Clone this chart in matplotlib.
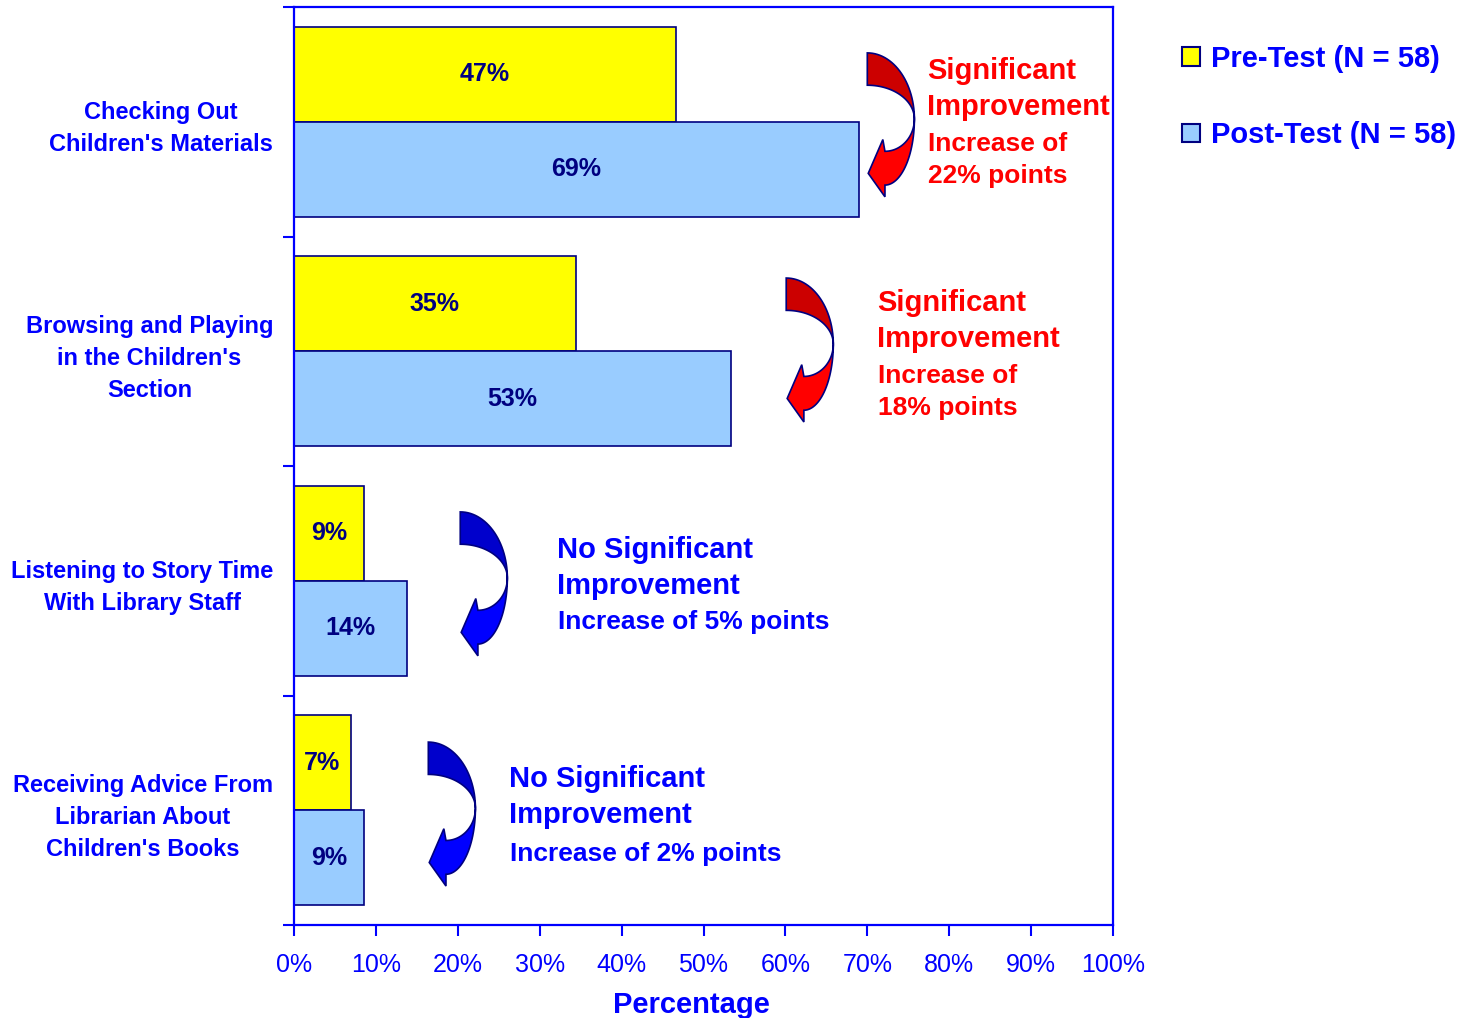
import numpy as np
import matplotlib
matplotlib.use("Agg")
import matplotlib.pyplot as plt
from matplotlib.patches import Polygon, Patch

# ── Data ─────────────────────────────────────────────────────────────────────
categories = [
    "Checking Out\nChildren's Materials",
    "Browsing and Playing\nin the Children's\nSection",
    "Listening to Story Time\nWith Library Staff",
    "Receiving Advice From\nLibrarian About\nChildren's Books",
]
pre_test = [46.6, 34.4, 8.6, 6.9]
post_test = [69.0, 53.4, 13.8, 8.6]
pre_labels = ["47%", "35%", "9%", "7%"]
post_labels = ["69%", "53%", "14%", "9%"]
verdicts = ["Significant\nImprovement", "Significant\nImprovement",
            "No Significant\nImprovement", "No Significant\nImprovement"]
increases = ["Increase of\n22% points", "Increase of\n18% points",
             "Increase of 5% points", "Increase of 2% points"]
significant = [True, True, False, False]

# ── Styles ───────────────────────────────────────────────────────────────────
YELLOW = "#FFFF00"
LBLUE = "#99CCFF"
NAVY = "#000080"
BLUE = "#0000FF"
RED = "#FF0000"

plt.rcParams.update({
    "font.family": ["Liberation Sans", "DejaVu Sans"],
    "font.weight": "bold",
})

fig = plt.figure(figsize=(14.58, 10.18), dpi=100)
ax = fig.add_axes([294 / 1458, 1 - 925 / 1018, 819 / 1458, 918 / 1018])

n = len(categories)
y = np.arange(n)
bh = 0.415
ax.barh(y - bh / 2, pre_test, bh, color=YELLOW, edgecolor=NAVY,
        linewidth=1.2, label="Pre-Test (N = 58)")
ax.barh(y + bh / 2, post_test, bh, color=LBLUE, edgecolor=NAVY,
        linewidth=1.2, label="Post-Test (N = 58)")

for i in range(n):
    ax.text(pre_test[i] / 2, y[i] - bh / 2, pre_labels[i], ha="center",
            va="center", color=NAVY, fontsize=18, fontweight="bold")
    ax.text(post_test[i] / 2, y[i] + bh / 2, post_labels[i], ha="center",
            va="center", color=NAVY, fontsize=18, fontweight="bold")

ax.set_xlim(0, 100)
ax.set_ylim(n - 0.5, -0.5)
ax.set_xticks(np.arange(0, 101, 10))
ax.set_xticklabels([f"{v}%" for v in range(0, 101, 10)])
ax.set_yticks(y)
ax.set_yticklabels(categories, ha="right", multialignment="center",
                   linespacing=1.5)
ax.set_yticks(np.arange(-0.5, n, 1.0), minor=True)

ax.tick_params(axis="x", colors=BLUE, labelcolor=BLUE, labelsize=18,
               length=8, width=1.5, pad=12)
for lab in ax.get_xticklabels():
    lab.set_fontweight("normal")
ax.tick_params(axis="y", which="major", length=0, pad=15,
               labelcolor=BLUE, labelsize=17)
ax.tick_params(axis="y", which="minor", length=8, width=1.5, color=BLUE)
for sp in ax.spines.values():
    sp.set_color(BLUE)
    sp.set_linewidth(1.6)

ax.set_xlabel("Percentage", fontsize=21, fontweight="bold", color=BLUE)
ax.xaxis.set_label_coords(0.485, -0.072)

# ── Curved arrows (decorative, like the Office shapes) ───────────────────────
def curved_arrow(x0, y0, w, h, dark, light):
    t = np.linspace(np.pi / 2, 0, 30)
    outer_top = np.c_[np.cos(t), 0.45 - 0.45 * np.sin(t)]
    inner_top = np.c_[np.cos(t), 0.45 - 0.23 * np.sin(t)]
    top = np.vstack([outer_top, inner_top[::-1]])
    s = np.linspace(0, -np.pi / 2, 30)
    inner_bot = np.c_[0.375 + 0.625 * np.cos(s), 0.45 - 0.22 * np.sin(s)]
    outer_bot = np.c_[0.375 + 0.625 * np.cos(s), 0.45 - 0.45 * np.sin(s)]
    head = np.array([[0.33, 0.59], [0.02, 0.82], [0.375, 0.98]])
    bot = np.vstack([inner_bot, head, outer_bot[::-1]])
    for shape, col in ((top, dark), (bot, light)):
        pts = np.c_[x0 + shape[:, 0] * w, y0 + shape[:, 1] * h]
        ax.add_patch(Polygon(pts, closed=True, facecolor=col, edgecolor=NAVY,
                             linewidth=1.2, zorder=4))

arrow_pos = [(70.0, -0.300), (60.1, 0.681), (20.3, 1.700), (16.4, 2.703)]
text_pos = [(77.3, -0.142, 0.167), (71.2, 0.868, 1.178),
            (32.1, 1.944, 2.180), (26.3, 2.942, 3.191)]
for i in range(n):
    if significant[i]:
        dark, light, tc = "#CC0000", RED, RED
    else:
        dark, light, tc = "#0000CC", BLUE, BLUE
    curved_arrow(arrow_pos[i][0], arrow_pos[i][1], 5.75, 0.64, dark, light)
    tx, ty1, ty2 = text_pos[i]
    ax.text(tx, ty1, verdicts[i], color=tc, fontsize=21, fontweight="bold",
            ha="left", va="center", linespacing=1.35)
    ax.text(tx + 0.1, ty2, increases[i], color=tc, fontsize=19,
            fontweight="bold", ha="left", va="center", linespacing=1.4)

# ── Legend ───────────────────────────────────────────────────────────────────
handles = [Patch(facecolor=YELLOW, edgecolor=NAVY, linewidth=1.5),
           Patch(facecolor=LBLUE, edgecolor=NAVY, linewidth=1.5)]
leg = fig.legend(handles, ["Pre-Test (N = 58)", "Post-Test (N = 58)"],
                 loc="upper left", bbox_to_anchor=(1182 / 1458, 1 - 45 / 1018),
                 frameon=False, fontsize=21, handlelength=0.6,
                 handleheight=0.6, handletextpad=0.4, labelspacing=1.65,
                 borderpad=0, borderaxespad=0)
for t in leg.get_texts():
    t.set_color(BLUE)
    t.set_fontweight("bold")

fig.savefig("out.png", dpi=100, facecolor="white")
